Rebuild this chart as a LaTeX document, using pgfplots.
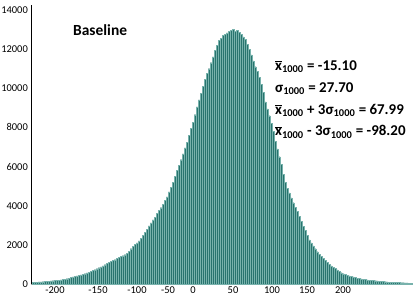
\documentclass[border=0pt]{standalone}
\usepackage{pgfplots}
\pgfplotsset{compat=1.18}
\usepackage{fontspec}
\setmainfont{Carlito}
\definecolor{teald}{RGB}{40,116,110}
\definecolor{teall}{RGB}{120,178,172}
\newcommand{\xb}{\ensuremath{\overline{\mbox{x}}}}
\pgfplotstableread{
x y
33 90
35 100
37 100
39 110
41 110
43 120
45 130
47 140
49 150
51 160
53 170
55 180
57 190
59 200
61 210
63 230
65 250
67 270
69 300
71 330
73 360
75 380
77 410
79 440
81 470
83 500
85 530
87 570
89 610
91 650
93 690
95 730
97 780
99 830
101 880
103 930
105 990
107 1050
109 1100
111 1160
113 1200
115 1240
117 1300
119 1350
121 1400
123 1450
125 1500
127 1580
129 1680
131 1800
133 1920
135 2020
137 2100
139 2200
141 2330
143 2480
145 2650
147 2800
149 2970
151 3120
153 3270
155 3420
157 3600
159 3750
161 3900
163 4080
165 4260
167 4450
169 4700
171 4950
173 5200
175 5500
177 5800
179 6050
181 6350
183 6650
185 6950
187 7250
189 7600
191 7950
193 8250
195 8650
197 9050
199 9400
201 9750
203 10100
205 10450
207 10750
209 11000
211 11300
213 11600
215 11950
217 12200
219 12450
221 12550
223 12700
225 12750
227 12820
229 12900
231 12950
233 13000
235 12900
237 12950
239 12850
241 12750
243 12620
245 12500
247 12250
249 12000
251 11700
253 11400
255 11100
257 10850
259 10550
261 10200
263 9800
265 9300
267 8950
269 8600
271 8200
273 7800
275 7300
277 6900
279 6500
281 6100
283 5600
285 5200
287 4900
289 4650
291 4400
293 4150
295 3920
297 3700
299 3450
301 3200
303 2950
305 2740
307 2500
309 2250
311 2100
313 1950
315 1800
317 1650
319 1520
321 1400
323 1300
325 1200
327 1100
329 1000
331 920
333 850
335 800
337 720
339 640
341 580
343 530
345 490
347 450
349 420
351 390
353 360
355 330
357 300
359 280
361 260
363 240
365 230
367 215
369 200
371 190
373 180
375 170
377 160
379 150
381 140
383 130
385 120
387 110
389 100
391 95
393 90
395 85
397 80
399 75
401 70
403 65
405 60
407 55
409 50
411 45
}\hist
\begin{document}
\begin{tikzpicture}
\begin{axis}[
  scale only axis,
  width=382bp, height=279bp,
  xmin=31, xmax=413, ymin=0, ymax=14250,
  axis x line=bottom, axis y line=left,
  x axis line style={-, draw=gray!70, line width=1.6pt},
  y axis line style={-, draw=black, line width=1pt},
  major tick length=0pt,
  xtick={55,98,137,168,193,233,272,307,343},
  xticklabels={-200,-150,-100,-50,0,50,100,150,200},
  ytick={0,2000,4000,6000,8000,10000,12000,14000},
  scaled y ticks=false,
  /pgf/number format/assume math mode=true,
  /pgf/number format/1000 sep={},
  tick label style={font=\fontsize{10.5}{12}\selectfont},
  yticklabel style={inner sep=1pt, xshift=-2pt},
  xticklabel style={inner sep=1pt, yshift=-1.5pt},
  clip=false,
]
\addplot[ybar, bar width=2, fill=teald, draw=teall, line width=0.2pt] table[x=x,y=y] {\hist};
\node[anchor=base west, inner sep=0pt, font=\fontsize{15.5}{18}\selectfont\bfseries] at (axis cs:73,12700) {Baseline};
\node[anchor=base west, font=\fontsize{15}{22}\selectfont\bfseries, align=left, inner sep=0pt] at (axis cs:275,7560)
  {\xb\textsubscript{1000} = -15.10\\
   σ\textsubscript{1000} = 27.70\\
   \xb\textsubscript{1000} + 3σ\textsubscript{1000} = 67.99\\
   \xb\textsubscript{1000} - 3σ\textsubscript{1000} = -98.20};
\path (axis cs:0,-1021) rectangle (axis cs:415,14505);
\end{axis}
\end{tikzpicture}
\end{document}
